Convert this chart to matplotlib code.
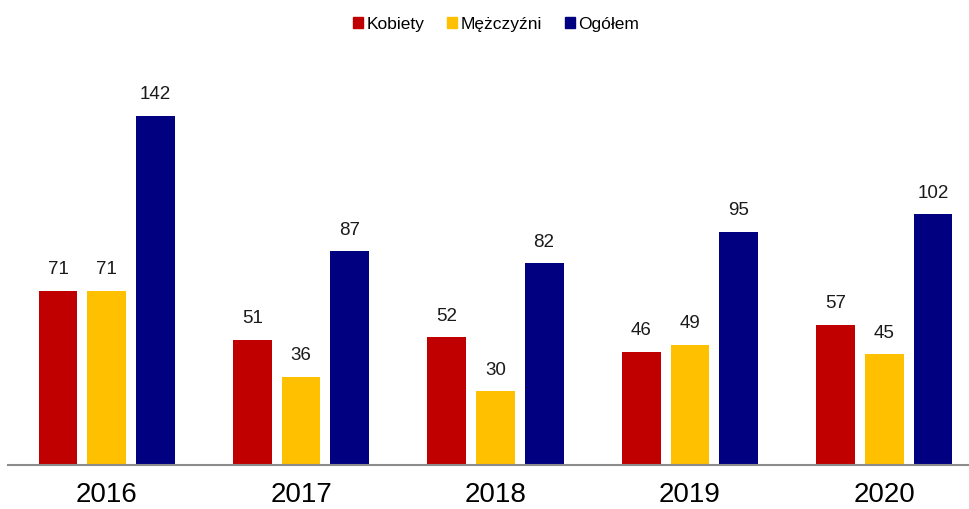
import numpy as np
import matplotlib.pyplot as plt
from matplotlib.patches import Patch

plt.rcParams['font.family'] = ['Liberation Sans', 'DejaVu Sans']

# Dane
lata = ['2016', '2017', '2018', '2019', '2020']
kobiety = [71, 51, 52, 46, 57]
mezczyzni = [71, 36, 30, 49, 45]
ogolem = [142, 87, 82, 95, 102]

serie = [('Kobiety', kobiety, '#C00000'),
         ('Mężczyźni', mezczyzni, '#FFC000'),
         ('Ogółem', ogolem, '#000080')]

fig = plt.figure(figsize=(9.69, 5.09), dpi=100)
ax = fig.add_axes([8 / 969, 44 / 509, 1 - 8 / 969, (465 - 40) / 509])

x = np.arange(len(lata))
szer = 0.2
krok = 0.25

for i, (nazwa, wart, kolor) in enumerate(serie):
    pos = x + (i - 1) * krok
    bars = ax.bar(pos, wart, width=szer, color=kolor, label=nazwa)
    for b, v in zip(bars, wart):
        ax.annotate(str(v), (b.get_x() + b.get_width() / 2, v),
                    xytext=(0, 9), textcoords='offset points',
                    ha='center', va='bottom', fontsize=13.5, color='#1a1a1a')

ax.set_xlim(-0.507, 4.435)
ax.set_ylim(0, 425 / (349 / 142))
ax.set_xticks(x)
ax.set_xticklabels(lata, fontsize=20)
ax.tick_params(axis='x', length=0, pad=12)
ax.set_yticks([])
for s in ['top', 'right', 'left']:
    ax.spines[s].set_visible(False)
ax.spines['bottom'].set_color('#8c8c8c')
ax.spines['bottom'].set_linewidth(1.5)

uchwyty = [Patch(color=k, label=n) for n, _, k in serie]
fig.legend(handles=uchwyty, loc='center', bbox_to_anchor=(496 / 969, 1 - 24 / 509),
           ncol=3, frameon=False, fontsize=12.5, handlelength=0.6, handleheight=0.6,
           handletextpad=0.2, columnspacing=1.3)

fig.savefig('out.png', dpi=100)
